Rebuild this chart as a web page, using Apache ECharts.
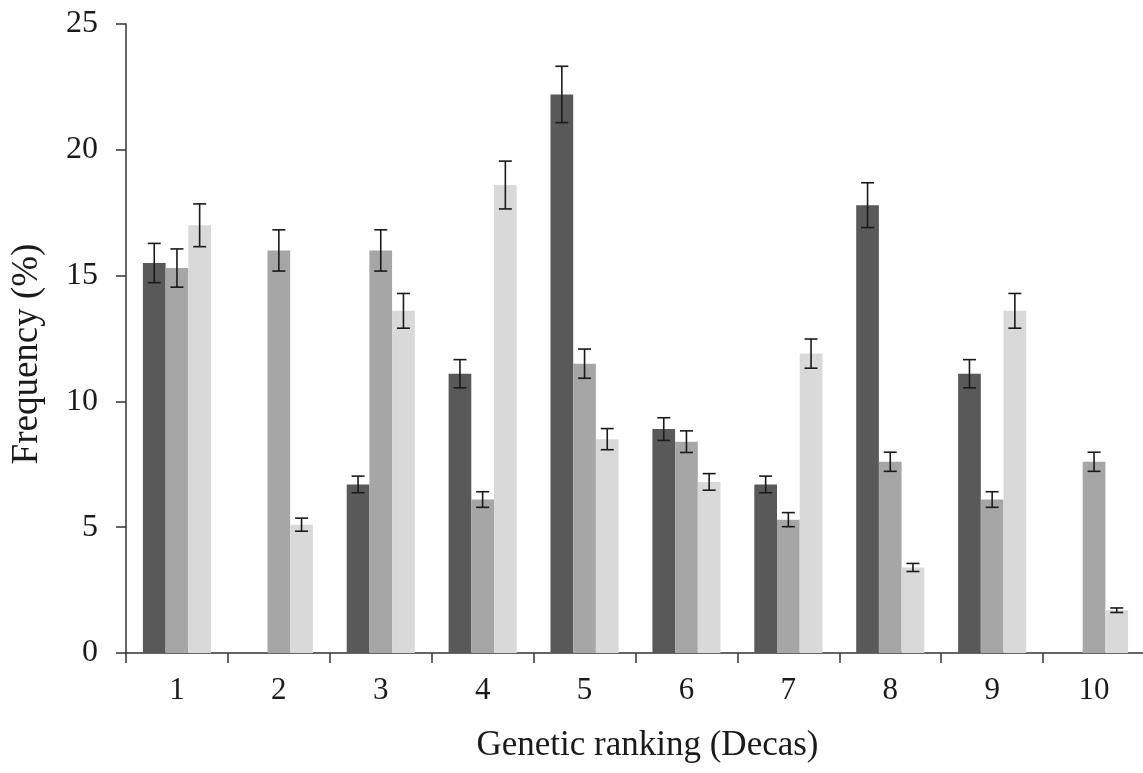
<!DOCTYPE html>
<html>
<head>
<meta charset="utf-8">
<script src="https://cdn.jsdelivr.net/npm/echarts@6/dist/echarts.min.js"></script>
<style>html,body{margin:0;padding:0;background:#fff}#c{width:1143px;height:773px}</style>
</head>
<body>
<div id="c"></div>
<script>
const categories = ['1','2','3','4','5','6','7','8','9','10'];
const seriesDark   = [15.5, 0, 6.7, 11.1, 22.2, 8.9, 6.7, 17.8, 11.1, 0];
const seriesMedium = [15.3, 16.0, 16.0, 6.1, 11.5, 8.4, 5.3, 7.6, 6.1, 7.6];
const seriesLight  = [17.0, 5.1, 13.6, 18.6, 8.5, 6.8, 11.9, 3.4, 13.6, 1.7];
const errDark   = [0.78, 0, 0.33, 0.56, 1.12, 0.45, 0.33, 0.89, 0.56, 0];
const errMedium = [0.76, 0.82, 0.82, 0.31, 0.58, 0.43, 0.28, 0.38, 0.31, 0.38];
const errLight  = [0.85, 0.26, 0.69, 0.95, 0.42, 0.33, 0.58, 0.16, 0.69, 0.09];
const yTicks = [0, 5, 10, 15, 20, 25];

const BAR_W = 22.7;
const COLORS = ['#595959', '#a6a6a6', '#d9d9d9'];
const FONT = 'Liberation Serif, Times New Roman, serif';

const values = [seriesDark, seriesMedium, seriesLight];
const errs = [errDark, errMedium, errLight];

function errData(vals, e) {
  return vals.map((v, i) => [i, v - e[i], v + e[i], e[i]]);
}

function makeErrSeries(idx) {
  return {
    type: 'custom',
    data: errData(values[idx], errs[idx]),
    z: 10,
    silent: true,
    encode: { x: 0, y: [1, 2] },
    renderItem: function (params, api) {
      if (api.value(3) <= 0) return null;
      const lo = api.coord([api.value(0), api.value(1)]);
      const hi = api.coord([api.value(0), api.value(2)]);
      const x = lo[0] + (idx - 1) * BAR_W;
      const cap = 6.5;
      const style = { stroke: '#1a1a1a', lineWidth: 1.6 };
      return {
        type: 'group',
        children: [
          { type: 'line', shape: { x1: x, y1: hi[1], x2: x, y2: lo[1] }, style: style },
          { type: 'line', shape: { x1: x - cap, y1: hi[1], x2: x + cap, y2: hi[1] }, style: style },
          { type: 'line', shape: { x1: x - cap, y1: lo[1], x2: x + cap, y2: lo[1] }, style: style }
        ]
      };
    }
  };
}

const chart = echarts.init(document.getElementById('c'), null, { renderer: 'canvas' });
chart.setOption({
  backgroundColor: '#ffffff',
  animation: false,
  grid: { left: 126, right: -2, top: 24, bottom: 120, containLabel: false, outerBoundsMode: 'none' },
  xAxis: {
    type: 'category',
    data: categories,
    boundaryGap: true,
    axisLine: { lineStyle: { color: '#333333', width: 1.5 } },
    axisTick: { show: true, inside: false, length: 10, alignWithLabel: false, lineStyle: { color: '#333333', width: 1.5 } },
    axisLabel: { color: '#1a1a1a', fontFamily: FONT, fontSize: 31, margin: 22 },
    name: 'Genetic ranking (Decas)',
    nameLocation: 'middle',
    nameGap: 75,
    nameTextStyle: { color: '#1a1a1a', fontFamily: FONT, fontSize: 35, padding: [0, 0, 0, 24] },
    splitLine: { show: false }
  },
  yAxis: {
    type: 'value',
    min: yTicks[0],
    max: yTicks[yTicks.length - 1],
    interval: 5,
    axisLine: { show: true, lineStyle: { color: '#333333', width: 1.5 } },
    axisTick: { show: true, inside: false, length: 10, lineStyle: { color: '#333333', width: 1.5 } },
    axisLabel: { color: '#1a1a1a', fontFamily: FONT, fontSize: 32, margin: 28 },
    splitLine: { show: false },
    name: 'Frequency (%)',
    nameLocation: 'middle',
    nameGap: 80,
    nameRotate: 90,
    nameTextStyle: { color: '#1a1a1a', fontFamily: FONT, fontSize: 37, padding: [0, 31, 0, 0] }
  },
  series: [
    { type: 'bar', data: seriesDark, barWidth: BAR_W, barGap: '0%', itemStyle: { color: COLORS[0] } },
    { type: 'bar', data: seriesMedium, barWidth: BAR_W, barGap: '0%', itemStyle: { color: COLORS[1] } },
    { type: 'bar', data: seriesLight, barWidth: BAR_W, barGap: '0%', itemStyle: { color: COLORS[2] } },
    makeErrSeries(0),
    makeErrSeries(1),
    makeErrSeries(2)
  ]
});
</script>
</body>
</html>
